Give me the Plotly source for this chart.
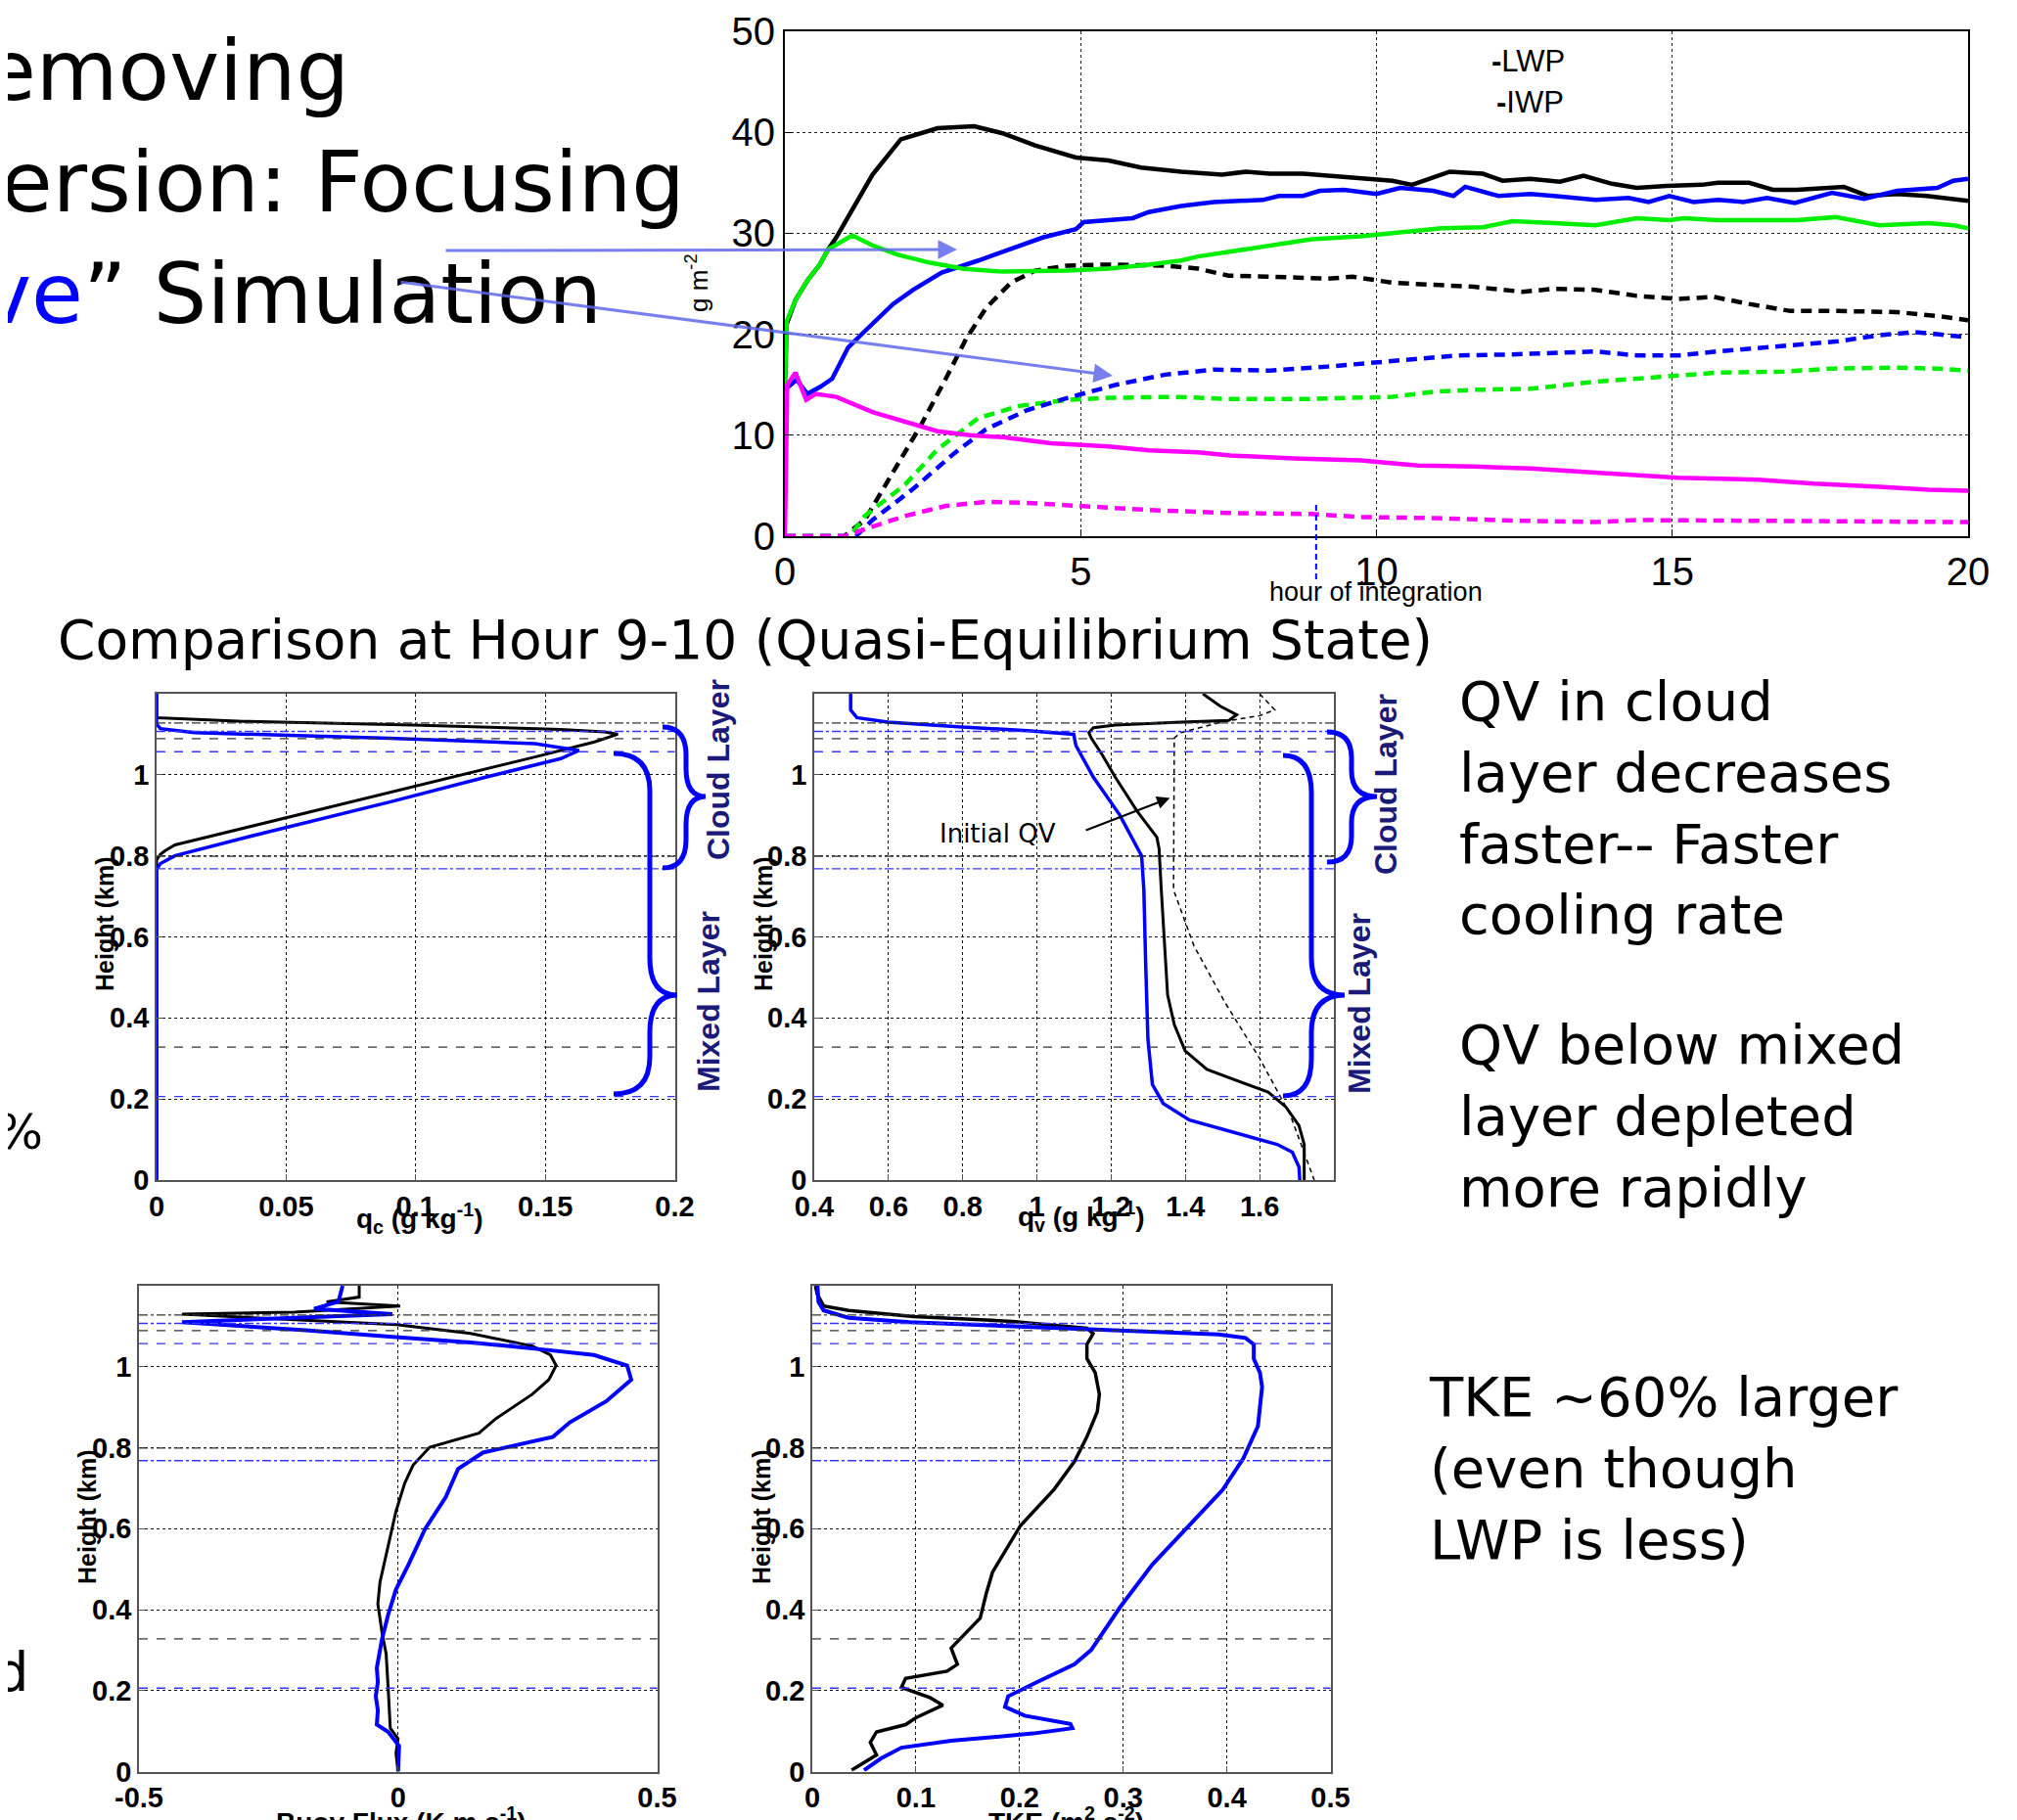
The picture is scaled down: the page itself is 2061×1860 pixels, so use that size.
import plotly.graph_objects as go

W, H = 2061, 1860
PAGE_OFF = 8  # default body margin of the html page

# ---------------- top chart: water paths (g m^-2) vs hour ----------------
lwp_ctrl_h = [0, 0.03, 0.18, 0.38, 0.59, 0.73, 0.87, 1.1, 1.48, 1.96, 2.58, 3.2, 3.68, 4.23, 4.92, 5.47, 6.02, 6.7, 7.39, 7.8, 8.2, 8.76, 9.18, 9.73, 10.27, 10.6, 11.24, 11.8, 12.13, 12.6, 13.1, 13.5, 13.98, 14.4, 14.9, 15.5, 15.77, 16.3, 16.7, 17.1, 17.9, 18.3, 18.8, 19.3, 20]
lwp_ctrl_v = [15.0, 21.0, 23.4, 25.3, 26.9, 28.4, 29.6, 32.0, 35.8, 39.3, 40.4, 40.6, 39.9, 38.7, 37.5, 37.2, 36.5, 36.1, 35.8, 36.1, 35.9, 35.9, 35.7, 35.4, 35.2, 34.8, 36.1, 35.9, 35.2, 35.4, 35.1, 35.7, 34.9, 34.5, 34.7, 34.8, 35.0, 35.0, 34.3, 34.3, 34.6, 33.7, 33.9, 33.7, 33.2]

lwp_blue_h = [0, 0.2, 0.38, 0.6, 0.8, 1.07, 1.35, 1.83, 2.17, 2.65, 3.27, 3.82, 4.37, 4.92, 5.05, 5.88, 6.15, 6.7, 7.25, 8.08, 8.35, 8.76, 9.04, 9.45, 10.0, 10.4, 10.96, 11.3, 11.5, 12.06, 12.6, 13.0, 13.7, 14.26, 14.6, 14.95, 15.36, 15.77, 16.2, 16.6, 17.07, 17.7, 18.24, 18.8, 19.48, 19.75, 20]
lwp_blue_v = [14.5, 15.5, 14.1, 14.8, 15.6, 18.7, 20.3, 23.0, 24.4, 26.1, 27.3, 28.4, 29.6, 30.4, 31.1, 31.5, 32.1, 32.7, 33.1, 33.3, 33.7, 33.7, 34.2, 34.3, 33.9, 34.5, 34.2, 33.7, 34.6, 33.7, 33.9, 33.7, 33.3, 33.5, 33.1, 33.7, 33.1, 33.3, 33.1, 33.5, 33.0, 34.0, 33.4, 34.2, 34.5, 35.2, 35.4]

lwp_green_h = [0, 0.03, 0.18, 0.38, 0.59, 0.73, 1.14, 1.48, 1.9, 2.44, 3.0, 3.68, 4.78, 5.47, 6.15, 6.7, 6.98, 7.8, 8.9, 9.73, 10.27, 11.1, 11.8, 12.3, 13.0, 13.7, 14.4, 14.95, 15.2, 15.77, 16.45, 17.1, 17.76, 18.5, 19.34, 19.75, 20]
lwp_green_v = [15.0, 21.3, 23.4, 25.3, 26.9, 28.4, 29.8, 28.8, 27.9, 27.1, 26.5, 26.2, 26.3, 26.5, 26.9, 27.3, 27.7, 28.4, 29.4, 29.7, 30.0, 30.5, 30.6, 31.2, 31.0, 30.8, 31.5, 31.3, 31.5, 31.3, 31.3, 31.3, 31.6, 30.8, 31.0, 30.8, 30.5]

lwp_mag_h = [0, 0.04, 0.18, 0.36, 0.52, 0.87, 1.48, 2.03, 2.58, 3.13, 3.68, 4.5, 5.47, 6.15, 6.98, 7.53, 8.6, 9.73, 10.7, 11.65, 12.6, 13.7, 15.1, 16.45, 17.4, 18.5, 19.34, 20]
lwp_mag_v = [0, 15.0, 16.2, 13.5, 14.1, 13.8, 12.3, 11.3, 10.4, 10.0, 9.8, 9.2, 8.9, 8.5, 8.3, 8.0, 7.7, 7.5, 7.0, 6.9, 6.7, 6.3, 5.8, 5.6, 5.2, 4.9, 4.6, 4.5]

iwp_ctrl_h = [0, 1.0, 1.35, 1.83, 2.3, 2.72, 3.06, 3.4, 3.82, 4.23, 4.78, 5.47, 6.43, 6.98, 7.5, 8.2, 9.18, 9.6, 10.27, 10.96, 11.65, 12.47, 13.0, 13.7, 14.4, 15.1, 15.7, 16.3, 17.0, 17.8, 18.8, 19.48, 20]
iwp_ctrl_v = [0, 0, 1.6, 6.3, 11.0, 15.6, 19.5, 22.6, 25.1, 26.3, 26.8, 26.9, 26.8, 26.5, 25.8, 25.7, 25.5, 25.7, 25.1, 24.9, 24.7, 24.2, 24.5, 24.4, 23.8, 23.5, 23.7, 23.0, 22.3, 22.3, 22.2, 21.8, 21.4]

iwp_green_h = [0, 1.1, 1.35, 2.03, 2.58, 3.27, 3.96, 4.78, 5.47, 6.57, 7.5, 8.9, 10.27, 10.96, 11.65, 12.6, 13.7, 14.8, 15.77, 16.87, 17.7, 18.8, 19.48, 20]
iwp_green_v = [0, 0, 2.0, 5.1, 8.6, 11.7, 12.9, 13.5, 13.7, 13.8, 13.6, 13.6, 13.8, 14.3, 14.5, 14.6, 15.3, 15.8, 16.2, 16.3, 16.6, 16.7, 16.6, 16.4]

iwp_blue_h = [0, 1.2, 1.48, 2.17, 2.86, 3.4, 4.1, 4.78, 5.6, 6.43, 7.25, 8.2, 9.18, 10.0, 10.7, 11.37, 12.3, 13.0, 13.7, 14.4, 15.1, 15.77, 16.87, 17.8, 18.5, 19.1, 19.48, 20]
iwp_blue_v = [0, 0, 1.6, 4.7, 8.2, 10.6, 12.5, 13.7, 15.0, 16.0, 16.5, 16.4, 16.8, 17.2, 17.6, 17.9, 18.0, 18.1, 18.3, 17.9, 17.9, 18.3, 18.9, 19.3, 19.9, 20.2, 20.0, 19.7]

iwp_mag_h = [0, 1.0, 1.35, 2.03, 2.72, 3.4, 4.1, 5.05, 6.15, 7.5, 8.9, 9.73, 10.96, 12.3, 13.7, 14.4, 15.77, 17.1, 18.5, 20]
iwp_mag_v = [0, 0, 0.7, 2.0, 3.0, 3.4, 3.3, 3.0, 2.6, 2.3, 2.2, 1.9, 1.8, 1.55, 1.4, 1.6, 1.55, 1.4, 1.4, 1.4]

top_yticks = [0, 10, 20, 30, 40, 50]
top_xticks = [0, 5, 10, 15, 20]
marker_hour = 8.98

# ---------------- profile panels (height in km) ----------------
qc_ctrl_x = [0, 0, 0.0335, 0.099, 0.156, 0.173, 0.178, 0.169, 0.146, 0.0071, 0.0034, 0.0015, 0, 0]
qc_ctrl_z = [1.2, 1.141, 1.132, 1.123, 1.112, 1.106, 1.100, 1.081, 1.044, 0.827, 0.813, 0.804, 0.79, 0]
qc_exp_x = [0, 0, 0.0015, 0.0147, 0.09, 0.146, 0.163, 0.156, 0.127, 0.09, 0.0335, 0.007, 0.0015, 0, 0]
qc_exp_z = [1.2, 1.125, 1.114, 1.104, 1.09, 1.077, 1.06, 1.04, 0.994, 0.933, 0.844, 0.80, 0.781, 0.767, 0]

qv_ctrl_x = [1.447, 1.494, 1.538, 1.517, 1.388, 1.211, 1.152, 1.140, 1.146, 1.176, 1.211, 1.270, 1.323, 1.329, 1.335, 1.343, 1.352, 1.370, 1.399, 1.458, 1.541, 1.623, 1.671, 1.706, 1.720, 1.720]
qv_ctrl_z = [1.2, 1.169, 1.148, 1.134, 1.130, 1.123, 1.116, 1.104, 1.091, 1.049, 0.994, 0.910, 0.846, 0.818, 0.716, 0.578, 0.457, 0.384, 0.319, 0.273, 0.245, 0.217, 0.180, 0.134, 0.088, 0]
qv_exp_x = [0.498, 0.498, 0.515, 0.598, 0.798, 0.975, 1.099, 1.105, 1.152, 1.223, 1.282, 1.288, 1.293, 1.299, 1.311, 1.340, 1.411, 1.541, 1.647, 1.688, 1.706, 1.708]
qv_exp_z = [1.2, 1.160, 1.141, 1.130, 1.118, 1.109, 1.100, 1.072, 0.994, 0.901, 0.800, 0.716, 0.531, 0.347, 0.236, 0.189, 0.148, 0.116, 0.088, 0.069, 0.032, 0]
qv_init_x = [1.60, 1.641, 1.60, 1.506, 1.388, 1.370, 1.368, 1.423, 1.506, 1.60, 1.682, 1.747]
qv_init_z = [1.2, 1.160, 1.146, 1.132, 1.104, 1.091, 0.716, 0.578, 0.439, 0.300, 0.162, 0]

bf_ctrl_x = [0, -0.004, 0, -0.015, -0.019, -0.023, -0.031, -0.039, -0.035, -0.019, -0.004, 0.013, 0.029, 0.061, 0.156, 0.188, 0.259, 0.291, 0.305, 0.294, 0.259, 0.140, -0.003, -0.218, -0.417, -0.2, 0.004, -0.138, -0.075, -0.075]
bf_ctrl_z = [0, 0.046, 0.081, 0.107, 0.204, 0.291, 0.344, 0.414, 0.467, 0.555, 0.643, 0.713, 0.757, 0.801, 0.836, 0.871, 0.932, 0.968, 1.003, 1.029, 1.051, 1.082, 1.104, 1.117, 1.130, 1.135, 1.150, 1.160, 1.172, 1.2]
bf_exp_x = [0, 0.002, -0.019, -0.041, -0.039, -0.043, -0.039, -0.041, -0.031, -0.019, -0.004, 0.020, 0.052, 0.092, 0.116, 0.164, 0.299, 0.331, 0.402, 0.450, 0.442, 0.378, 0.283, 0.140, -0.004, -0.178, -0.417, -0.234, -0.011, -0.162, -0.115, -0.107]
bf_exp_z = [0, 0.063, 0.098, 0.116, 0.151, 0.186, 0.221, 0.256, 0.327, 0.388, 0.450, 0.511, 0.599, 0.678, 0.748, 0.788, 0.827, 0.862, 0.915, 0.968, 1.003, 1.029, 1.042, 1.060, 1.073, 1.090, 1.110, 1.119, 1.130, 1.143, 1.161, 1.2]

tke_ctrl_x = [0.038, 0.062, 0.056, 0.062, 0.090, 0.100, 0.126, 0.114, 0.086, 0.090, 0.130, 0.140, 0.134, 0.142, 0.162, 0.168, 0.174, 0.201, 0.233, 0.253, 0.265, 0.275, 0.277, 0.273, 0.265, 0.265, 0.271, 0.265, 0.193, 0.098, 0.035, 0.011, 0.005, 0.003]
tke_ctrl_z = [0.0035, 0.041, 0.072, 0.098, 0.116, 0.133, 0.164, 0.182, 0.208, 0.230, 0.248, 0.265, 0.305, 0.327, 0.379, 0.441, 0.493, 0.608, 0.696, 0.766, 0.827, 0.889, 0.932, 0.985, 1.020, 1.055, 1.082, 1.095, 1.112, 1.124, 1.139, 1.150, 1.178, 1.2]
tke_exp_x = [0.050, 0.066, 0.086, 0.134, 0.213, 0.251, 0.249, 0.205, 0.186, 0.189, 0.217, 0.253, 0.269, 0.297, 0.328, 0.364, 0.396, 0.416, 0.430, 0.434, 0.432, 0.426, 0.426, 0.418, 0.392, 0.273, 0.193, 0.094, 0.035, 0.011, 0.006, 0.005]
tke_exp_z = [0.0035, 0.032, 0.059, 0.076, 0.094, 0.107, 0.118, 0.138, 0.160, 0.186, 0.221, 0.265, 0.300, 0.406, 0.511, 0.608, 0.696, 0.774, 0.853, 0.950, 0.985, 1.020, 1.055, 1.071, 1.080, 1.092, 1.101, 1.110, 1.121, 1.139, 1.160, 1.2]

# layer boundary heights (km): control (black) and experiment (blue)
ref_ctrl_z = [1.128, 1.089, 0.799, 0.328]
ref_ctrl_dash = ["dashdot", "dash", "dashdot", "dash"]
ref_exp_z = [1.107, 1.057, 0.768, 0.206]
ref_exp_dash = ["dashdot", "dash", "dashdot", "dash"]

height_ticks = [0, 0.2, 0.4, 0.6, 0.8, 1]
height_ticktext = ["0", "0.2", "0.4", "0.6", "0.8", "1"]
qc_ticks = [0, 0.05, 0.1, 0.15, 0.2]
qv_ticks = [0.4, 0.6, 0.8, 1.0, 1.2, 1.4, 1.6]
qv_ticktext = ["0.4", "0.6", "0.8", "1", "1.2", "1.4", "1.6"]
bf_ticks = [-0.5, 0, 0.5]
tke_ticks = [0, 0.1, 0.2, 0.3, 0.4, 0.5]

# ---------------- helpers (positions given in screen pixels) ----------------
def PX(x):
    return (x - PAGE_OFF) / W

def PY(y):
    return 1 - (y - PAGE_OFF) / H

BLACK, BLUE, GREEN, MAG = "#000000", "#0000ff", "#00ee00", "#ff00ff"
SLIDE_FONT = "DejaVu Sans"

fig = go.Figure()

def line(x, y, color, width, dash="solid", xa="x", ya="y"):
    fig.add_trace(go.Scatter(x=x, y=y, mode="lines", xaxis=xa, yaxis=ya,
                             line=dict(color=color, width=width, dash=dash),
                             hoverinfo="skip", showlegend=False))

dsh = "11px,7px"
line(iwp_ctrl_h, iwp_ctrl_v, BLACK, 4.5, dsh)
line(iwp_green_h, iwp_green_v, GREEN, 4.5, dsh)
line(iwp_blue_h, iwp_blue_v, BLUE, 4.5, dsh)
line(iwp_mag_h, iwp_mag_v, MAG, 4.5, dsh)
line(lwp_ctrl_h, lwp_ctrl_v, BLACK, 4.5)
line(lwp_blue_h, lwp_blue_v, BLUE, 4.5)
line(lwp_green_h, lwp_green_v, GREEN, 4.5)
line(lwp_mag_h, lwp_mag_v, MAG, 4.5)

line(qc_ctrl_x, qc_ctrl_z, BLACK, 3, xa="x2", ya="y2")
line(qc_exp_x, qc_exp_z, BLUE, 3.5, xa="x2", ya="y2")

line(qv_init_x, qv_init_z, BLACK, 1.5, "5px,4px", xa="x3", ya="y3")
line(qv_ctrl_x, qv_ctrl_z, BLACK, 3, xa="x3", ya="y3")
line(qv_exp_x, qv_exp_z, BLUE, 3.5, xa="x3", ya="y3")

line(bf_ctrl_x, bf_ctrl_z, BLACK, 3, xa="x4", ya="y4")
line(bf_exp_x, bf_exp_z, BLUE, 4, xa="x4", ya="y4")

line(tke_ctrl_x, tke_ctrl_z, BLACK, 3.5, xa="x5", ya="y5")
line(tke_exp_x, tke_exp_z, BLUE, 4, xa="x5", ya="y5")

# ---------------- axes ----------------
def dom_x(a, b):
    return [PX(a), PX(b)]

def dom_y(top, bottom):
    return [PY(bottom), PY(top)]

top_dx = dom_x(802, 2011)
top_dy = dom_y(32, 548)

top_axis = dict(showline=True, mirror=True, linecolor="black", linewidth=2, automargin=False,
                showgrid=True, gridcolor="#222", griddash="dot", gridwidth=1,
                zeroline=False, ticks="inside", ticklen=7, tickcolor="black",
                tickfont=dict(family="Liberation Sans", size=40, color="black"))

low_font = dict(family="Liberation Sans", size=29, color="black", weight="bold")
low_axis = dict(showline=True, mirror=True, linecolor="#555", linewidth=1.5, automargin=False,
                showgrid=True, gridcolor="#111", griddash="dot", gridwidth=1,
                zeroline=False, ticks="inside", ticklen=6, tickcolor="#555",
                tickfont=low_font)

layout_axes = {}
layout_axes["xaxis"] = dict(top_axis, domain=top_dx, range=[0, 20], tickvals=top_xticks, anchor="y")
layout_axes["yaxis"] = dict(top_axis, domain=top_dy, range=[0, 50], tickvals=top_yticks, anchor="x")

panels = {
    2: (dom_x(160, 689.5), dom_y(709, 1206), [0, 0.2], qc_ticks, [str(v) for v in qc_ticks]),
    3: (dom_x(832, 1363), dom_y(709, 1206), [0.4, 1.8], qv_ticks, qv_ticktext),
    4: (dom_x(142, 671.5), dom_y(1314, 1810.5), [-0.5, 0.5], bf_ticks, ["-0.5", "0", "0.5"]),
    5: (dom_x(830, 1359.5), dom_y(1314, 1810.5), [0, 0.5], tke_ticks, [str(v) for v in tke_ticks]),
}
for i, (dx, dy, xr, xt, xtt) in panels.items():
    layout_axes[f"xaxis{i}"] = dict(low_axis, domain=dx, range=xr, tickvals=xt, ticktext=xtt, anchor=f"y{i}")
    layout_axes[f"yaxis{i}"] = dict(low_axis, domain=dy, range=[0, 1.2], tickvals=height_ticks,
                                    ticktext=height_ticktext, anchor=f"x{i}")

# ---------------- shapes ----------------
shapes = []
for i in panels:
    for z, d in zip(ref_ctrl_z, ref_ctrl_dash):
        shapes.append(dict(type="line", xref=f"x{i} domain", x0=0, x1=1, yref=f"y{i}", y0=z, y1=z,
                           line=dict(color="#333", width=1.3, dash=d), layer="above"))
    for z, d in zip(ref_exp_z, ref_exp_dash):
        shapes.append(dict(type="line", xref=f"x{i} domain", x0=0, x1=1, yref=f"y{i}", y0=z, y1=z,
                           line=dict(color="#3535ff", width=1.3, dash=d), layer="above"))

def brace(x0, x1, x2, yt, ym, yb):
    r = min(38, (yb - yt) / 5)
    def P(x, y):
        return f"{PX(x):.5f},{PY(y):.5f}"
    path = (f"M{P(x0, yt)} Q{P(x1, yt)} {P(x1, yt + r)} L{P(x1, ym - r)} "
            f"Q{P(x1, ym)} {P(x2, ym)} Q{P(x1, ym)} {P(x1, ym + r)} "
            f"L{P(x1, yb - r)} Q{P(x1, yb)} {P(x0, yb)}")
    return dict(type="path", xref="paper", yref="paper", path=path,
                line=dict(color="#0000ff", width=5), layer="above")

shapes.append(brace(677, 701, 721, 743, 814, 887))
shapes.append(brace(627, 664, 692, 770, 1017, 1118))
shapes.append(brace(1356, 1381, 1407, 748, 814, 881))
shapes.append(brace(1311, 1340, 1374, 772, 1017, 1120))

# marker of hour 9 (dashed blue tick below the axis)
mx = top_dx[0] + marker_hour / 20 * (top_dx[1] - top_dx[0])
shapes.append(dict(type="line", xref="paper", yref="paper", x0=mx, x1=mx, y0=PY(592), y1=PY(512),
                   line=dict(color="#0000ff", width=2, dash="6px,4px")))

# ---------------- annotations ----------------
ann = []
def text(x, y, s, size, family=SLIDE_FONT, color="black", xanchor="left", yanchor="middle", angle=0, weight="normal"):
    ann.append(dict(xref="paper", yref="paper", x=PX(x), y=PY(y), text=s, showarrow=False,
                    xanchor=xanchor, yanchor=yanchor, textangle=angle, align="left",
                    font=dict(family=family, size=size, color=color, weight=weight)))

# slide title (cut off on the left)
text(359, 72, "Removing", 86, xanchor="right")
text(702, 186, "Inversion: Focusing", 86, xanchor="right")
text(617, 300, "on \u201c<span style='color:#0000ff'>Active</span>\u201d Simulation", 86, xanchor="right")
text(57, 654, "Comparison at Hour 9-10 (Quasi-Equilibrium State)", 55)
text(1489, 826, "QV in cloud<br>layer decreases<br>faster-- Faster<br>cooling rate", 56)
text(1489, 1140, "QV below mixed<br>layer depleted<br>more rapidly", 56)
text(1458, 1500, "TKE ~60% larger<br>(even though<br>LWP is less)", 56)
text(46, 1157, "40%", 50, xanchor="right")
text(31, 1709, "and", 55, xanchor="right")

# top chart labels
text(1406, 605, "hour of integration", 27, family="Liberation Sans", xanchor="center")
text(712, 289, "g m<sup>-2</sup>", 26, family="Liberation Sans", xanchor="center", angle=-90)
text(1522, 62, "<b>-</b>LWP", 31, family="Liberation Sans")
text(1527, 105, "<b>-</b>IWP", 31, family="Liberation Sans")

# profile panel labels
for (cx, cy) in [(107, 944), (780, 944), (89, 1550), (778, 1550)]:
    text(cx, cy, "Height (km)", 25, family="Liberation Sans", xanchor="center", angle=-90, weight="bold")
text(428, 1245, "q<sub>c</sub> (g kg<sup>-1</sup>)", 28, family="Liberation Sans", xanchor="center", weight="bold")
text(1104, 1243, "q<sub>v</sub> (g kg<sup>-1</sup>)", 28, family="Liberation Sans", xanchor="center", weight="bold")
text(409, 1860, "Buoy Flux (K m s<sup>-1</sup>)", 28, family="Liberation Sans", xanchor="center", weight="bold")
text(1089, 1860, "TKE (m<sup>2</sup> s<sup>-2</sup>)", 28, family="Liberation Sans", xanchor="center", weight="bold")

navy = "#1a1a78"
text(734, 787, "Cloud Layer", 32, family="Liberation Sans", color=navy, xanchor="center", angle=-90, weight="bold")
text(724, 1024, "Mixed Layer", 32, family="Liberation Sans", color=navy, xanchor="center", angle=-90, weight="bold")
text(1416, 802, "Cloud Layer", 32, family="Liberation Sans", color=navy, xanchor="center", angle=-90, weight="bold")
text(1389, 1026, "Mixed Layer", 32, family="Liberation Sans", color=navy, xanchor="center", angle=-90, weight="bold")

# Initial QV note
ann.append(dict(xref="x3", yref="y3", x=0.895, y=0.855, text="Initial QV", showarrow=False,
                font=dict(family=SLIDE_FONT, size=26, color="black"), xanchor="center", yanchor="middle"))
ann.append(dict(xref="x3", yref="y3", x=1.358, y=0.943, axref="x3", ayref="y3", ax=1.128, ay=0.862,
                text="", showarrow=True, arrowhead=2, arrowsize=1.2, arrowwidth=2.2, arrowcolor="black"))

# blue pointer arrows from title into top chart
for (tx, ty, hx, hy) in [(454, 256, 978, 255), (408, 288, 1137, 384)]:
    ann.append(dict(xref="paper", yref="paper", x=PX(hx), y=PY(hy), ax=tx - hx, ay=ty - hy,
                    axref="pixel", ayref="pixel", text="", showarrow=True, arrowhead=2,
                    arrowsize=1.3, arrowwidth=3, arrowcolor="rgba(95,105,235,0.85)"))

fig.update_layout(width=W, height=H, autosize=False,
                  margin=dict(l=0, r=0, t=0, b=0, pad=0),
                  paper_bgcolor="white", plot_bgcolor="white",
                  showlegend=False, shapes=shapes, annotations=ann, **layout_axes)

fig.write_html("out.html")
